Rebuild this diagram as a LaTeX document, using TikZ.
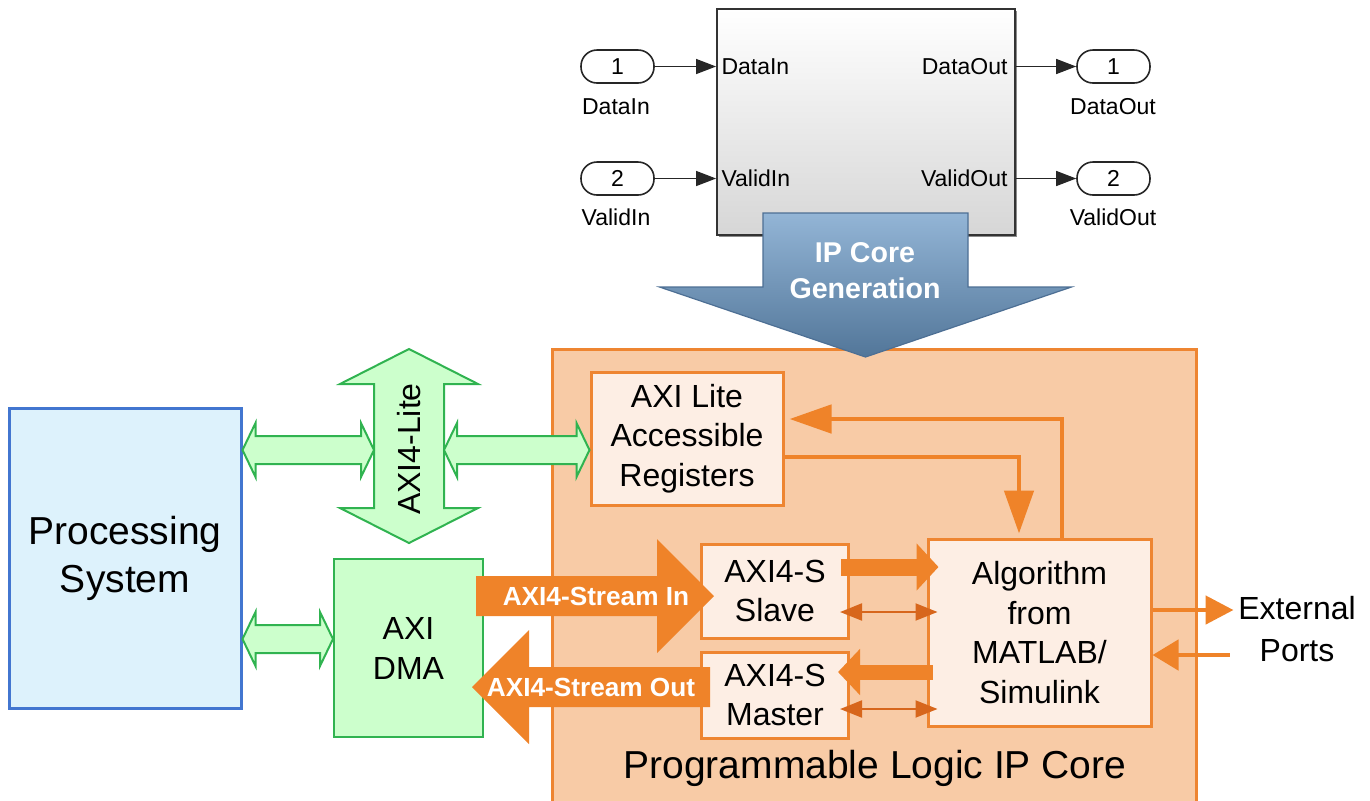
\documentclass[tikz,border=0pt]{standalone}
\usepackage{fontspec}
\setmainfont{Liberation Sans}
\usetikzlibrary{arrows.meta,calc}
\definecolor{oBorder}{HTML}{EE8531}
\definecolor{oFill}{HTML}{F8CBA6}
\definecolor{oLight}{HTML}{FDEEE4}
\definecolor{oArrow}{HTML}{EF8329}
\definecolor{oDark}{HTML}{D7661C}
\definecolor{gFill}{HTML}{CCFFCC}
\definecolor{gBorder}{HTML}{30B350}
\definecolor{bFill}{HTML}{DDF2FC}
\definecolor{bBorder}{HTML}{4276D0}
\definecolor{genTop}{HTML}{93B5D6}
\definecolor{genBot}{HTML}{527699}
\definecolor{genLine}{HTML}{4D6F94}

% horizontal double block arrow: style, left point, right point, y point
\newcommand{\HArrow}[4]{\path[#1] let \p1=(#2), \p2=(#3), \p3=(#4) in
 (\x1,\y3) -- ({\x1+6.5pt},{\y3+13.5pt}) -- ({\x1+6.5pt},{\y3+7pt}) -- ({\x2-6.5pt},{\y3+7pt}) -- ({\x2-6.5pt},{\y3+13.5pt}) -- (\x2,\y3) -- ({\x2-6.5pt},{\y3-13.5pt}) -- ({\x2-6.5pt},{\y3-7pt}) -- ({\x1+6.5pt},{\y3-7pt}) -- ({\x1+6.5pt},{\y3-13.5pt}) -- cycle;}
% single fat block arrow: style, tail, tip
\newcommand{\FArrow}[3]{\path[#1] let \p1=(#2), \p2=(#3), \p3=($(#3)!28.5pt!(#2)$) in
 (\x1,{\y2+10pt}) -- (\x3,{\y2+10pt}) -- (\x3,{\y2+28.5pt}) -- (\x2,\y2) -- (\x3,{\y2-28.5pt}) -- (\x3,{\y2-10pt}) -- (\x1,{\y2-10pt}) -- cycle;}

\begin{document}
\begin{tikzpicture}[x=0.5pt,y=-0.5pt,
 obox/.style={draw=oBorder, line width=1.5pt, fill=oLight, inner sep=0pt, align=center, font=\fontsize{16}{19.75}\selectfont},
 garrow/.style={draw=gBorder, fill=gFill, line width=1pt, line join=miter},
 sarrow/.style={draw=black!85, line width=0.6pt, -{Triangle[length=10pt,width=7.5pt]}},
 port/.style={draw=black!85, line width=0.8pt, fill=white, rounded corners=8pt, minimum width=36.5pt, minimum height=16.5pt, inner sep=0pt, font=\fontsize{11.5}{13}\selectfont},
 small/.style={inner sep=0pt, font=\fontsize{11.5}{13}\selectfont},
 oconn/.style={draw=oArrow, line width=2.4pt},
 othin/.style={draw=oDark, line width=1pt, {Triangle[length=11pt,width=8.5pt]}-{Triangle[length=11pt,width=8.5pt]}},
 stream/.style={fill=oArrow},
 streamtxt/.style={text=white, font=\bfseries\fontsize{13.1}{15}\selectfont, inner sep=0pt}
]
\useasboundingbox (0,0) rectangle (1370,800);

% ---------- Simulink model ----------
\fill[black!45] (719,11) rectangle (1017,237);
\node[draw=black!80, line width=0.9pt, top color=white, bottom color=black!16, minimum width=149pt, minimum height=113pt, inner sep=0pt] (sim) at (866,122) {};
\node[port] (in1) at (617.5,66.5) {1};
\node[port] (in2) at (617.5,178.5) {2};
\node[port] (out1) at (1113.5,66.5) {1};
\node[port] (out2) at (1113.5,178.5) {2};
\node[small] (in1lab) at (616,107) {DataIn};
\node[small] (in2lab) at (616,217) {ValidIn};
\node[small] (out1lab) at (1113,107) {DataOut};
\node[small] (out2lab) at (1113,217) {ValidOut};
\node[small, anchor=west] (pDin) at ($(sim.west |- in1)+(5,0)$) {DataIn};
\node[small, anchor=west] (pVin) at ($(sim.west |- in2)+(5,0)$) {ValidIn};
\node[small, anchor=east] (pDout) at ($(sim.east |- out1)+(-8,0)$) {DataOut};
\node[small, anchor=east] (pVout) at ($(sim.east |- out2)+(-8,0)$) {ValidOut};
\draw[sarrow] (in1.east) -- (in1.east -| sim.west);
\draw[sarrow] (in2.east) -- (in2.east -| sim.west);
\draw[sarrow] (sim.east |- out1) -- (out1.west);
\draw[sarrow] (sim.east |- out2) -- (out2.west);

% ---------- Processing system and DMA ----------
\node[draw=bBorder, fill=bFill, line width=1.5pt, minimum width=116pt, minimum height=150pt, inner sep=0pt, align=center, font=\fontsize{19.5}{24}\selectfont] (ps) at (125,558) {Processing\\System};
\node[draw=gBorder, fill=gFill, line width=1pt, minimum width=74.5pt, minimum height=89pt, inner sep=0pt, align=center, font=\fontsize{16}{20}\selectfont] (dma) at (408.5,648) {AXI\\DMA};

% ---------- IP core ----------
\node[draw=oBorder, fill=oFill, line width=1.5pt, minimum width=322pt, minimum height=227pt, inner sep=0pt] (ip) at (874,576) {};
\node[inner sep=0pt, anchor=base, font=\fontsize{19.5}{22}\selectfont] (pltext) at (875,778) {Programmable Logic IP Core};
\node[obox, minimum width=96pt, minimum height=66.5pt] (regs) at (687,438.5) {AXI Lite\\Accessible\\Registers};
\node[obox, minimum width=73.5pt, minimum height=47pt] (slave) at (775,591) {AXI4-S\\Slave};
\node[obox, minimum width=73.5pt, minimum height=43pt] (master) at (775,695) {AXI4-S\\Master};
\node[obox, minimum width=111.5pt, minimum height=93.5pt] (alg) at (1039.5,632.5) {Algorithm\\from\\MATLAB/\\Simulink};

% ---------- AXI4-Lite bus ----------
\coordinate (litec) at (409,446);
\path[garrow] (litec) ++(0,48.5pt) -- ++(34.5pt,-17.5pt) -- ++(-17pt,0) -- ++(0,-62pt) -- ++(17pt,0) -- ++(-34.5pt,-17.5pt) -- ++(-34.5pt,17.5pt) -- ++(17pt,0) -- ++(0,62pt) -- ++(-17pt,0) -- cycle;
\node[rotate=90, inner sep=0pt, font=\fontsize{16}{18}\selectfont] (lite) at (409,449) {AXI4-Lite};
\coordinate (liteL) at (374,450);
\coordinate (liteR) at (444,450);
\coordinate (dmaport) at ($(dma.west)+(0,-9)$);
\HArrow{garrow}{ps.east}{liteL}{liteL}
\HArrow{garrow}{liteR}{regs.west}{liteR}
\HArrow{garrow}{ps.east}{dma.west}{dmaport}

% ---------- AXI4-Stream ----------
\coordinate (sinTail) at ($(dma.east)+(-8,-52)$);
\coordinate (sinTip) at ($(slave.west)+(14,5)$);
\FArrow{stream}{sinTail}{sinTip}
\node[streamtxt] (sintxt) at (596,596) {AXI4-Stream In};
\coordinate (soutTail) at ($(master.west)+(10,-8)$);
\coordinate (soutTip) at ($(dma.east)+(-12,39)$);
\FArrow{stream}{soutTail}{soutTip}
\node[streamtxt] (souttxt) at (591,687) {AXI4-Stream Out};

% ---------- internal connectors ----------
\draw[oconn, -{Triangle[length=21.5pt,width=14.5pt]}] ($(regs.east)+(0,18.5)$) -| ($(alg.north)+(-20.5,-4)$);
\draw[oconn, -{Triangle[length=21pt,width=14pt]}] ($(alg.north)+(22.5,0)$) |- ($(regs.east)+(5,-19.5)$);
\draw[draw=oArrow, line width=8.5pt, -{Triangle[length=11pt,width=23pt]}] ($(slave.east)+(-9,-24)$) -- ($(alg.west)+(12,-65.5)$);
\draw[draw=oArrow, line width=7.5pt, -{Triangle[length=11pt,width=22.5pt]}] ($(alg.west)+(6,39.5)$) -- ($(master.east)+(-12,-23)$);
\draw[othin] ($(slave.east)+(-10,21)$) -- ($(alg.west)+(11,-20.5)$);
\draw[othin] ($(master.east)+(-10,14)$) -- ($(alg.west)+(11,76.5)$);

% ---------- external ports ----------
\coordinate (extout) at ($(alg.east)+(81,-22.5)$);
\coordinate (extin) at ($(alg.east)+(77,22.5)$);
\draw[oconn, -{Triangle[length=14pt,width=14pt]}] ($(alg.east)+(0,-22.5)$) -- (extout);
\draw[oconn, -{Triangle[length=13pt,width=15pt]}] (extin) -- ($(alg.east)+(0,22.5)$);
\node[inner sep=0pt, align=center, font=\fontsize{16}{21}\selectfont] (ext) at (1297,629) {External\\Ports};

% ---------- IP Core Generation arrow ----------
\coordinate (gentop) at (865.5,213);
\path[draw=genLine, line width=0.6pt, top color=genTop, bottom color=genBot] (gentop) ++(-51.25pt,0) -- ++(102.5pt,0) -- ++(0,-37pt) -- ++(51.75pt,0) -- ++(-103pt,-35pt) -- ++(-103pt,35pt) -- ++(51.75pt,0) -- cycle;
\node[text=white, align=center, inner sep=0pt, font=\bfseries\fontsize{14.3}{18}\selectfont] (gen) at (865,271) {IP Core\\Generation};
\end{tikzpicture}
\end{document}
